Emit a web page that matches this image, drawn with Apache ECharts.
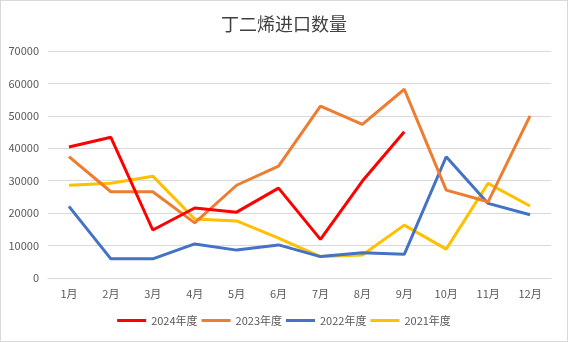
<!DOCTYPE html>
<html>
<head>
<meta charset="utf-8">
<script src="https://cdn.jsdelivr.net/npm/echarts@6/dist/echarts.min.js"></script>
<style>
  html, body { margin: 0; padding: 0; background: #fff; }
  #chart { width: 566px; height: 340px; border: 1px solid #d9d9d9; }
</style>
</head>
<body>
<div id="chart"></div>
<script>
// Monthly butadiene import volumes by year
const months = ['1月', '2月', '3月', '4月', '5月', '6月', '7月', '8月', '9月', '10月', '11月', '12月'];
const y2024 = [40400, 43400, 14800, 21600, 20300, 27700, 11900, 29900, 45100, null, null, null];
const y2023 = [37400, 26600, 26600, 17000, 28600, 34500, 53000, 47400, 58200, 27100, 23500, 50000];
const y2022 = [22100, 5900, 5900, 10500, 8600, 10200, 6600, 7800, 7300, 37400, 23000, 19500];
const y2021 = [28600, 29200, 31400, 18200, 17600, 12300, 6600, 7100, 16300, 8900, 29200, 22200];
const seriesNames = ['2024年度', '2023年度', '2022年度', '2021年度'];
const seriesColors = ['#FF0000', '#ED7D31', '#4472C4', '#FFC000'];
const seriesData = [y2024, y2023, y2022, y2021];

const font = '"Microsoft YaHei", "Noto Sans CJK SC", sans-serif';
const chart = echarts.init(document.getElementById('chart'));
chart.setOption({
  animation: false,
  title: {
    text: '丁二烯进口数量',
    left: 'center',
    top: 9,
    textStyle: { fontFamily: font, fontSize: 18, fontWeight: 'normal', color: '#404040' }
  },
  legend: {
    bottom: 10,
    left: 'center',
    itemWidth: 29,
    itemHeight: 3,
    itemGap: 4,
    icon: 'rect',
    textStyle: { fontFamily: font, fontSize: 11, color: '#595959' },
    data: seriesNames
  },
  grid: { left: 47, right: 16, top: 50, bottom: 63 },
  xAxis: {
    type: 'category',
    data: months,
    boundaryGap: true,
    axisLine: { lineStyle: { color: '#d9d9d9' } },
    axisTick: { show: false },
    axisLabel: { fontFamily: font, fontSize: 11, color: '#595959', margin: 10 }
  },
  yAxis: {
    type: 'value',
    min: 0,
    max: 70000,
    interval: 10000,
    axisLine: { show: false },
    axisTick: { show: false },
    splitLine: { lineStyle: { color: '#d9d9d9' } },
    axisLabel: {
      fontFamily: font, fontSize: 11, color: '#595959', margin: 9,
      formatter: v => String(v)
    }
  },
  series: seriesNames.map((name, i) => ({
    name,
    type: 'line',
    data: seriesData[i],
    symbol: 'none',
    color: seriesColors[i],
    lineStyle: { width: 3, color: seriesColors[i] },
    z: 10 - i
  }))
});
</script>
</body>
</html>
